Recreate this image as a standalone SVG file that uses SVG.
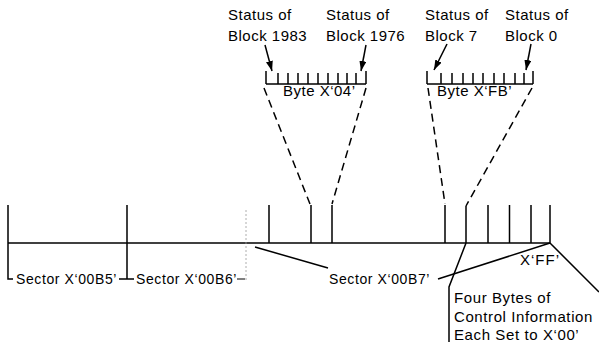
<svg xmlns="http://www.w3.org/2000/svg" width="599" height="342" viewBox="0 0 599 342">
<defs>
<style>
.t{font-family:"Liberation Sans",Arial,sans-serif;font-size:15px;letter-spacing:0.5px;fill:#000}
.s{font-family:"Liberation Sans",Arial,sans-serif;font-size:14px;letter-spacing:0.6px;fill:#000}
.ln{stroke:#000;stroke-width:1.5;fill:none}
.ds{stroke:#000;stroke-width:1.5;fill:none;stroke-dasharray:8 5}
.dot{stroke:#999;stroke-width:0.8;fill:none;stroke-dasharray:2 2}
</style>
<marker id="ah" markerUnits="userSpaceOnUse" markerWidth="11" markerHeight="8" refX="10" refY="3.5" orient="auto">
<path d="M0,0 L10,3.5 L0,7 z" fill="#000"/>
</marker>
</defs>
<rect width="599" height="342" fill="#fff"/>

<g id="status-labels">
<text class="t" x="228" y="20">Status of</text>
<text class="t" x="228" y="41">Block 1983</text>
<text class="t" x="326" y="20">Status of</text>
<text class="t" x="326" y="41">Block 1976</text>
<text class="t" x="425" y="20">Status of</text>
<text class="t" x="425" y="41">Block 7</text>
<text class="t" x="505" y="20">Status of</text>
<text class="t" x="505" y="41">Block 0</text>
</g>

<g id="byte-04">
<path class="ln" d="M266,84 H366 M266,71 V84 M366,71 V84 M278,73 V84 M288,73 V84 M298,73 V84 M308,73 V84 M318,73 V84 M328,73 V84 M338,73 V84 M347,73 V84 M356,73 V84"/>
<text class="t" x="283" y="96">Byte X‘04’</text>
</g>

<g id="byte-FB">
<path class="ln" d="M427,84 H533 M427,71 V84 M533,71 V84 M441,73 V84 M452,73 V84 M463,73 V84 M473,73 V84 M483,73 V84 M494,73 V84 M504,73 V84 M515,73 V84 M524,73 V84"/>
<text class="t" x="437" y="96">Byte X‘FB’</text>
</g>

<g id="track">
<path class="ln" d="M8,243 H550"/>
<path class="ln" d="M8,205 V279 H13 M127,205 V279 M119,279 H134"/>
<path class="ln" d="M269,205 V243 M311,205 V243 M332,205 V243 M445,205 V243 M466,206 V243 M488,205 V243 M509.5,205 V243 M531,205 V243 M550,205 V243"/>
<path class="dot" d="M246,210 V281"/>
<path class="ln" d="M237,279 H245" style="stroke-width:1"/>
</g>

<g id="sector-labels">
<text class="s" x="16" y="284">Sector X‘00B5’</text>
<text class="s" x="136" y="284">Sector X‘00B6’</text>
<text class="s" x="329" y="284">Sector X‘00B7’</text>
<text class="t" x="520" y="265" style="letter-spacing:1px">X‘FF’</text>
</g>

<g id="control-info">
<text class="t" x="454" y="303" style="letter-spacing:0.6px">Four Bytes of</text>
<text class="t" x="454" y="322" style="letter-spacing:0.6px">Control Information</text>
<text class="t" x="454" y="340" style="letter-spacing:0.6px">Each Set to X‘00’</text>
</g>

<g id="connectors">
<line class="ln" x1="265" y1="45" x2="272" y2="71" marker-end="url(#ah)"/>
<line class="ln" x1="366" y1="45" x2="361" y2="71" marker-end="url(#ah)"/>
<line class="ln" x1="447" y1="44" x2="434" y2="70" marker-end="url(#ah)"/>
<line class="ln" x1="531" y1="44" x2="526" y2="70" marker-end="url(#ah)"/>
<line class="ds" x1="264" y1="88" x2="310" y2="204"/>
<line class="ds" x1="366" y1="88" x2="332" y2="204"/>
<line class="ds" x1="428" y1="88" x2="445" y2="204"/>
<line class="ds" x1="532" y1="88" x2="466" y2="206"/>
<line class="ln" x1="255" y1="247" x2="328" y2="268"/>
<line class="ln" x1="438" y1="279" x2="550" y2="243"/>
<line class="ln" x1="550" y1="243" x2="599" y2="292"/>
<path class="ln" d="M466,243 L449,287 V342"/>
</g>
</svg>
